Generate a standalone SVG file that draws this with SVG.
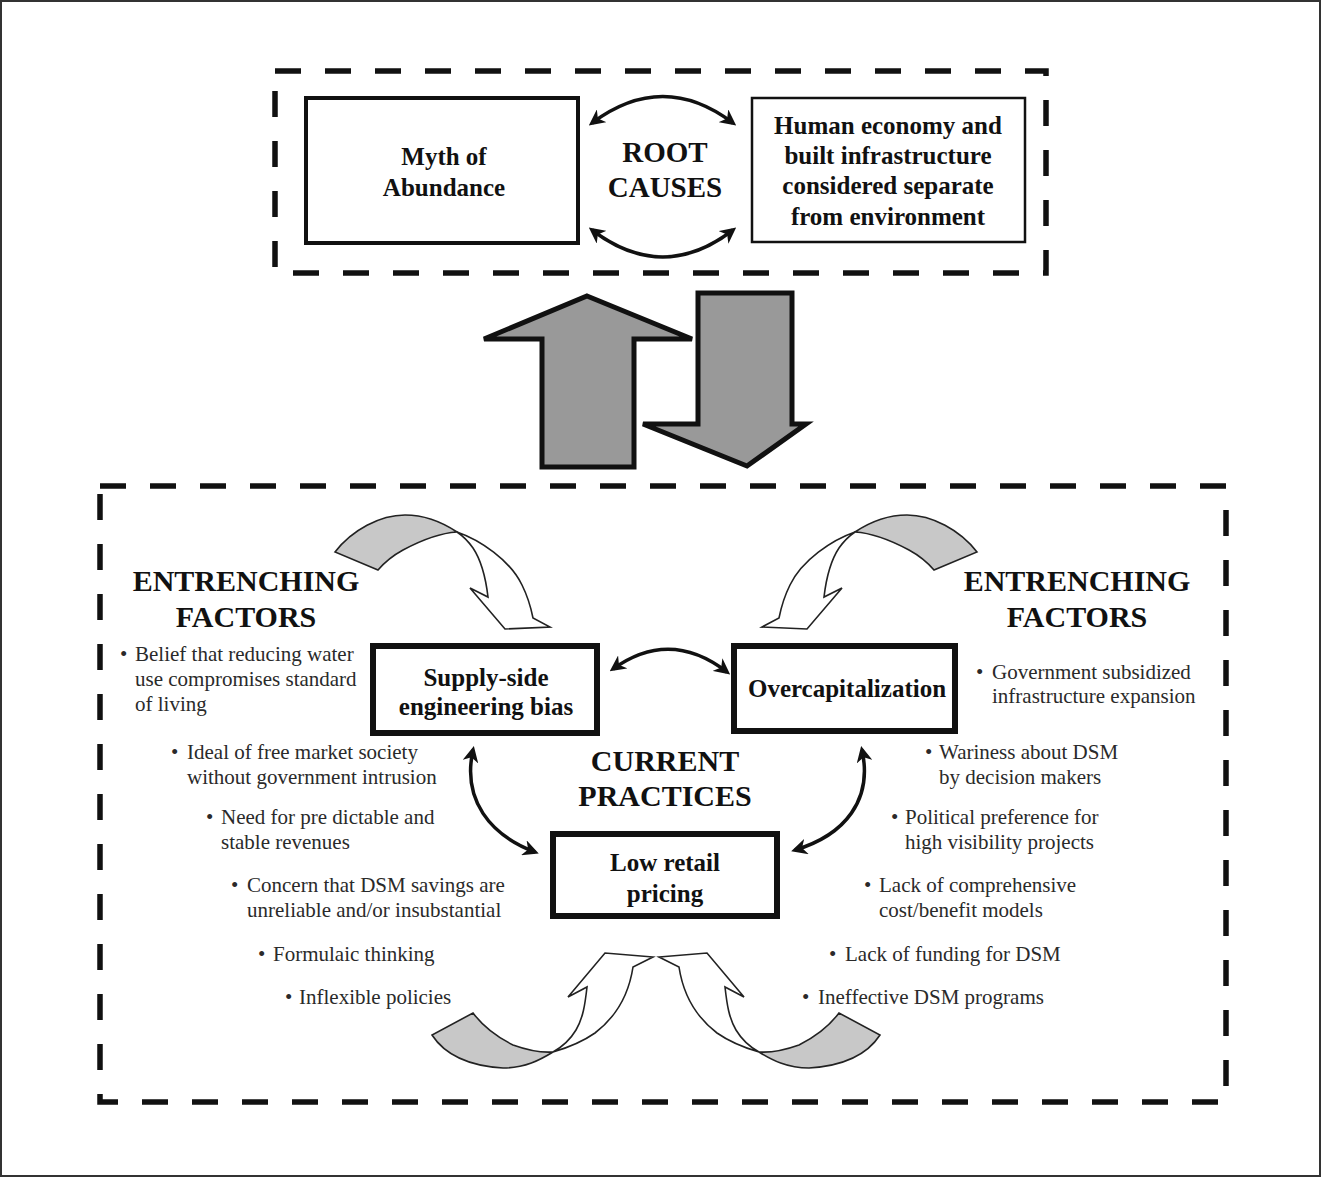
<svg xmlns="http://www.w3.org/2000/svg" xmlns:xlink="http://www.w3.org/1999/xlink" width="1322" height="1178" viewBox="0 0 1322 1178">
<style>
.lbl{font-family:"Liberation Serif","Times New Roman",serif;font-weight:bold;fill:#111;text-anchor:middle}
.nd{font-size:25px}
.hd{font-size:30px}
.li{font-family:"Liberation Serif","Times New Roman",serif;font-size:21px;fill:#2a2a2a}
.box{fill:#fff;stroke:#111}
.dash{fill:none;stroke:#111;stroke-width:5.5;stroke-dasharray:26 24}
.big{fill:#999;stroke:#111;stroke-width:5;stroke-linejoin:miter}
.con{fill:none;stroke:#111;stroke-width:3.5;marker-start:url(#ah);marker-end:url(#ah)}
.rg{fill:#c8c8c8;stroke:#222;stroke-width:1.6}
.rw{fill:#fff;stroke:#222;stroke-width:1.6}
</style>
<defs>
<marker id="ah" viewBox="0 0 12 12" refX="9" refY="6" markerWidth="16" markerHeight="16" markerUnits="userSpaceOnUse" orient="auto-start-reverse">
<path d="M0,0 L12,6 L0,12 L3.5,6 Z" fill="#111"/>
</marker>
<g id="curlTL">
<path class="rg" d="M335,552 C352,530 380,515 405,515 C425,515 442,522 457,532 C440,533 418,542 403,550 C392,556 384,563 378,570 Z"/>
<path class="rw" d="M457,532 C480,540 510,560 522,585 C528,597 531,608 533,618 L550,627 L505,629 L470,588 L488,597 C486,580 481,560 473,548 C468,541 463,536 457,532 Z"/>
</g>
<g id="curlBL">
<path class="rg" d="M432,1035 C445,1055 470,1066 503,1068 C525,1068 540,1060 553,1052 C540,1053 527,1050 513,1045 C495,1036 482,1025 473,1013 Z"/>
<path class="rw" d="M553,1052 C570,1047 585,1040 595,1033 C612,1020 628,1000 633,967 L653,957 L605,953 L568,997 L587,987 C585,1005 583,1018 576,1030 C570,1040 562,1047 553,1052 Z"/>
</g>
</defs>
<rect x="1" y="1" width="1319" height="1175" fill="#fff" stroke="#333" stroke-width="2"/>

<g id="root-frame">
<rect class="dash" x="275" y="71" width="771" height="202"/>
</g>
<g id="practices-frame">
<rect class="dash" x="100" y="486" width="1126" height="616"/>
</g>

<g id="connectors">
<path class="con" d="M592,123 Q663,70 733,123"/>
<path class="con" d="M592,230 Q663,284 733,230"/>
<path class="con" d="M613,669 Q670,628 727,672"/>
<path class="con" d="M473,750 C462,800 490,835 535,852"/>
<path class="con" d="M862,750 C873,800 845,835 795,850"/>
<polygon class="big" points="587,296 692,339 634,339 634,467 542,467 542,339 484,339"/>
<polygon class="big" points="698,293 792,293 792,424 806,424 747,466 643,424 698,424"/>
<use xlink:href="#curlTL"/>
<use xlink:href="#curlTL" transform="translate(1312,0) scale(-1,1)"/>
<use xlink:href="#curlBL"/>
<use xlink:href="#curlBL" transform="translate(1312,0) scale(-1,1)"/>
</g>

<g id="myth">
<rect class="box" x="306" y="98" width="272" height="145" stroke-width="4"/>
<text class="lbl nd" x="444" y="165">Myth of</text>
<text class="lbl nd" x="444" y="196">Abundance</text>
</g>
<g id="root-causes">
<text class="lbl" font-size="29" x="665" y="162">ROOT</text>
<text class="lbl" font-size="29" x="665" y="197">CAUSES</text>
</g>
<g id="human-economy">
<rect class="box" x="752" y="98" width="273" height="144" stroke-width="2.5"/>
<text class="lbl nd" x="888" y="134">Human economy and</text>
<text class="lbl nd" x="888" y="164">built infrastructure</text>
<text class="lbl nd" x="888" y="194">considered separate</text>
<text class="lbl nd" x="888" y="225">from environment</text>
</g>

<g id="ef-left">
<text class="lbl hd" x="246" y="591">ENTRENCHING</text>
<text class="lbl hd" x="246" y="627">FACTORS</text>
</g>
<g id="ef-right">
<text class="lbl hd" x="1077" y="591">ENTRENCHING</text>
<text class="lbl hd" x="1077" y="627">FACTORS</text>
</g>
<g id="current-practices">
<text class="lbl hd" x="665" y="771">CURRENT</text>
<text class="lbl hd" x="665" y="806">PRACTICES</text>
</g>

<g id="supply-side">
<rect class="box" x="373" y="646" width="224" height="87" stroke-width="6"/>
<text class="lbl nd" x="486" y="686">Supply-side</text>
<text class="lbl nd" x="486" y="715">engineering bias</text>
</g>
<g id="overcap">
<rect class="box" x="734" y="646" width="221" height="85" stroke-width="6"/>
<text class="lbl nd" x="847" y="697">Overcapitalization</text>
</g>
<g id="low-retail">
<rect class="box" x="553" y="834" width="224" height="82" stroke-width="6"/>
<text class="lbl nd" x="665" y="871">Low retail</text>
<text class="lbl nd" x="665" y="902">pricing</text>
</g>

<g id="list-left">
<text class="li" x="120" y="661">•</text>
<text class="li" x="135" y="661">Belief that reducing water</text>
<text class="li" x="135" y="686">use compromises standard</text>
<text class="li" x="135" y="711">of living</text>
<text class="li" x="171" y="759">•</text>
<text class="li" x="187" y="759">Ideal of free market society</text>
<text class="li" x="187" y="784">without government intrusion</text>
<text class="li" x="206" y="824">•</text>
<text class="li" x="221" y="824">Need for pre dictable and</text>
<text class="li" x="221" y="849">stable revenues</text>
<text class="li" x="231" y="892">•</text>
<text class="li" x="247" y="892">Concern that DSM savings are</text>
<text class="li" x="247" y="917">unreliable and/or insubstantial</text>
<text class="li" x="258" y="961">•</text>
<text class="li" x="273" y="961">Formulaic thinking</text>
<text class="li" x="285" y="1004">•</text>
<text class="li" x="299" y="1004">Inflexible policies</text>
</g>
<g id="list-right">
<text class="li" x="976" y="679">•</text>
<text class="li" x="992" y="679">Government subsidized</text>
<text class="li" x="992" y="703">infrastructure expansion</text>
<text class="li" x="925" y="759">•</text>
<text class="li" x="939" y="759">Wariness about DSM</text>
<text class="li" x="939" y="784">by decision makers</text>
<text class="li" x="891" y="824">•</text>
<text class="li" x="905" y="824">Political preference for</text>
<text class="li" x="905" y="849">high visibility projects</text>
<text class="li" x="864" y="892">•</text>
<text class="li" x="879" y="892">Lack of comprehensive</text>
<text class="li" x="879" y="917">cost/benefit models</text>
<text class="li" x="829" y="961">•</text>
<text class="li" x="845" y="961">Lack of funding for DSM</text>
<text class="li" x="802" y="1004">•</text>
<text class="li" x="818" y="1004">Ineffective DSM programs</text>
</g>
</svg>
